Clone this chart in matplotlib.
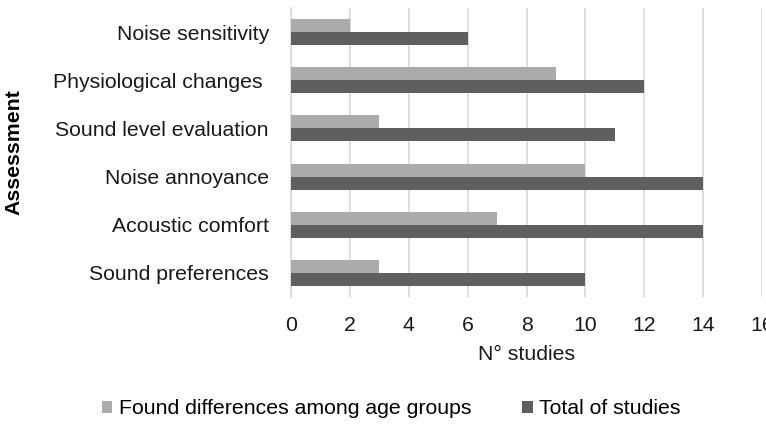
import numpy as np
import matplotlib.pyplot as plt

plt.rcParams['font.family'] = ['Liberation Sans', 'DejaVu Sans']

categories = ['Sound preferences', 'Acoustic comfort', 'Noise annoyance',
              'Sound level evaluation', 'Physiological changes ', 'Noise sensitivity']
found_diff = [3, 7, 10, 3, 9, 2]
total = [10, 14, 14, 11, 12, 6]
xticks = [0, 2, 4, 6, 8, 10, 12, 14, 16]

fs = 15.3
fig = plt.figure(figsize=(7.66, 4.24), dpi=100)
ax = fig.add_axes([291 / 766, 1 - 297 / 424, (762 - 291) / 766, 289 / 424])

y = np.arange(len(categories))
h = 0.27
ax.barh(y + h / 2, found_diff, height=h, color='#ababab', label='Found differences among age groups', zorder=3)
ax.barh(y - h / 2, total, height=h, color='#5f5f5f', label='Total of studies', zorder=3)

ax.set_xlim(0, 16)
ax.set_ylim(-0.5, len(categories) - 0.5)
ax.set_xticks(xticks)
ax.set_yticks(y)
ax.set_yticklabels(categories)
ax.tick_params(axis='both', length=0, labelsize=fs, colors='#1a1a1a')
ax.tick_params(axis='x', pad=14)
ax.tick_params(axis='y', pad=16)
ax.grid(axis='x', color='#d9d9d9', linewidth=1.2, zorder=0)
for s in ['top', 'right', 'bottom']:
    ax.spines[s].set_visible(False)
ax.spines['left'].set_color('#d9d9d9')
ax.spines['left'].set_linewidth(1.2)

ax.set_xlabel('N° studies', fontsize=fs, labelpad=7, color='#1a1a1a')
fig.text(14 / 766, 1 - 152 / 424, 'Assessment', rotation=90, fontsize=fs,
         fontweight='bold', ha='center', va='center')

handles, labels = ax.get_legend_handles_labels()
fig.legend(handles, labels, loc='center', bbox_to_anchor=(391 / 766, 1 - 409 / 424),
           ncol=2, frameon=False, fontsize=fs, handlelength=0.5, handleheight=0.5,
           handletextpad=0.3, columnspacing=2.4)

fig.savefig('out.png', dpi=100)
